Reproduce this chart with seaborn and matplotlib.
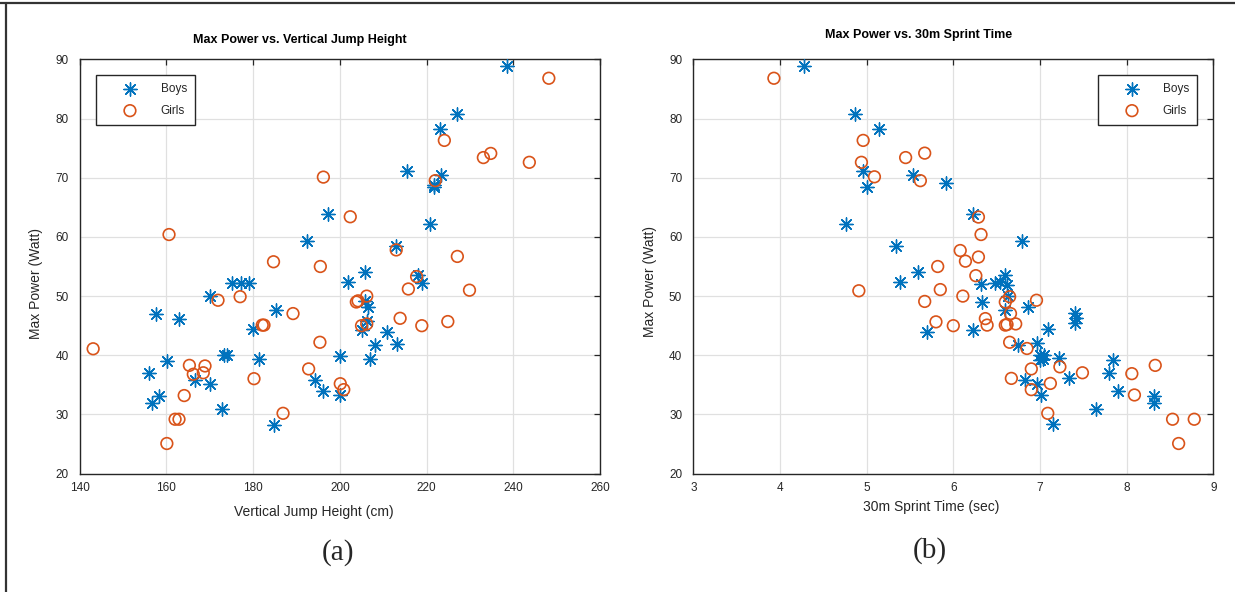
import matplotlib
matplotlib.use("Agg")
import matplotlib.pyplot as plt
from matplotlib.lines import Line2D
import seaborn as sns
import pandas as pd

# ---------------- data ----------------
jump_boys = [238.5, 227.1, 223.0, 215.6, 223.3, 221.8, 221.6, 197.3, 220.8, 213.0,
             192.4, 205.9, 201.9, 218.1, 218.9, 205.8, 206.6, 206.2, 205.0, 210.9,
             208.1, 213.1, 200.1, 207.0, 196.1, 200.1, 175.1, 177.2, 179.0, 170.1,
             157.6, 162.9, 185.2, 180.0, 173.2, 173.9, 181.4, 160.1, 155.9, 166.7,
             170.1, 194.2, 158.3, 156.6, 172.9, 184.9]
power_jump_boys = [88.9, 80.7, 78.2, 71.05, 70.5, 68.8, 68.35, 63.9, 62.2, 58.4,
                   59.3, 54.0, 52.4, 53.6, 52.2, 49.2, 48.1, 45.75, 44.2, 44.0,
                   41.8, 41.9, 39.8, 39.3, 34.0, 33.3, 52.2, 52.2, 52.2, 50.0,
                   47.0, 46.2, 47.7, 44.5, 40.0, 40.0, 39.3, 39.1, 37.05, 35.9,
                   35.1, 35.8, 33.1, 32.0, 31.0, 28.3]

jump_girls = [248.2, 224.1, 234.8, 233.1, 243.7, 196.2, 222.0, 202.4, 160.6, 213.0,
              227.1, 184.7, 195.5, 217.7, 215.8, 229.9, 206.2, 203.8, 204.2, 177.0,
              171.9, 189.2, 213.9, 224.9, 218.9, 205.0, 206.2, 182.1, 182.5, 143.1,
              195.4, 165.3, 168.9, 166.2, 168.5, 192.8, 180.2, 200.1, 200.9, 164.1,
              162.0, 162.9, 186.9, 160.1]
power_jump_girls = [86.8, 76.3, 74.1, 73.4, 72.6, 70.1, 69.5, 63.4, 60.4, 57.8,
                    56.7, 55.8, 55.0, 53.3, 51.2, 51.0, 50.0, 49.0, 49.2, 49.9,
                    49.3, 47.05, 46.25, 45.7, 45.0, 45.0, 45.3, 45.1, 45.1, 41.1,
                    42.2, 38.3, 38.2, 36.8, 37.05, 37.7, 36.05, 35.2, 34.2, 33.2,
                    29.2, 29.2, 30.2, 25.1]

sprint_boys = [4.28, 4.87, 5.14, 4.96, 5.53, 5.01, 5.92, 4.76, 6.23, 5.34,
               6.79, 5.59, 6.60, 5.38, 6.32, 6.48, 6.54, 6.62, 6.63, 6.33,
               6.60, 6.86, 7.40, 7.42, 7.40, 6.23, 7.09, 5.70, 6.75, 6.96,
               7.00, 7.05, 7.03, 7.00, 7.22, 7.84, 7.80, 6.83, 6.96, 7.33,
               7.01, 7.90, 8.31, 8.31, 7.65, 7.15]
power_sprint_boys = [88.9, 80.7, 78.2, 71.05, 70.5, 68.35, 69.1, 62.2, 63.9, 58.4,
                     59.25, 54.0, 53.6, 52.4, 52.1, 52.2, 52.3, 51.9, 50.0, 49.0,
                     47.6, 48.1, 47.2, 46.3, 45.5, 44.2, 44.5, 43.9, 41.8, 42.0,
                     40.0, 40.0, 39.4, 39.2, 39.5, 39.2, 37.05, 35.9, 35.1, 36.1,
                     33.3, 34.05, 33.1, 32.0, 31.0, 28.45]

sprint_girls = [3.93, 4.96, 5.45, 5.67, 4.94, 5.09, 5.62, 6.29, 6.32, 6.08,
                6.14, 6.29, 5.82, 6.26, 5.85, 4.91, 6.11, 6.65, 5.67, 6.60,
                6.96, 6.66, 6.37, 6.39, 6.00, 5.80, 6.60, 6.72, 6.62, 6.65,
                6.85, 7.23, 6.90, 7.49, 8.33, 8.06, 6.67, 7.12, 6.90, 8.09,
                7.09, 8.53, 8.78, 8.60]
power_sprint_girls = [86.8, 76.3, 73.4, 74.15, 72.6, 70.15, 69.5, 63.35, 60.4, 57.7,
                      55.9, 56.6, 55.0, 53.45, 51.1, 50.9, 50.0, 49.9, 49.1, 49.0,
                      49.3, 47.05, 46.2, 45.1, 45.0, 45.65, 45.1, 45.3, 45.2, 42.2,
                      41.15, 38.05, 37.7, 37.05, 38.3, 36.9, 36.1, 35.25, 34.2, 33.3,
                      30.2, 29.2, 29.2, 25.1]

group_labels = ["Boys", "Girls"]
titles = ["Max Power vs. Vertical Jump Height", "Max Power vs. 30m Sprint Time"]
xlabels = ["Vertical Jump Height (cm)", "30m Sprint Time (sec)"]
ylabel = "Max Power (Watt)"
captions = ["(a)", "(b)"]
xticks_a = [140, 160, 180, 200, 220, 240, 260]
xticks_b = [3, 4, 5, 6, 7, 8, 9]
yticks = [20, 30, 40, 50, 60, 70, 80, 90]

# ---------------- style ----------------
sns.set_style("white")
plt.rcParams["font.family"] = ["Liberation Sans", "DejaVu Sans"]

BLUE = "#0072BD"
ORANGE = "#D95319"
DARK = "#262626"
W, H = 1235, 592

fig = plt.figure(figsize=(W / 100, H / 100), dpi=100)
ax_a = fig.add_axes([79.7 / W, (H - 473.7) / H, 520.3 / W, 414.4 / H])
ax_b = fig.add_axes([693.3 / W, (H - 473.7) / H, 520.0 / W, 414.4 / H])

panels = [
    (ax_a, jump_boys, power_jump_boys, jump_girls, power_jump_girls, xticks_a,
     "upper left", (0.0308, 0.962)),
    (ax_b, sprint_boys, power_sprint_boys, sprint_girls, power_sprint_girls, xticks_b,
     "upper right", (0.969, 0.962)),
]

for i, (ax, xb, yb, xg, yg, xt, lloc, lanchor) in enumerate(panels):
    dfb = pd.DataFrame({"x": xb, "y": yb})
    dfg = pd.DataFrame({"x": xg, "y": yg})
    sns.scatterplot(data=dfb, x="x", y="y", ax=ax, marker=(8, 2, 0), s=90,
                    color=BLUE, linewidth=1.0, label=group_labels[0], zorder=3)
    sns.scatterplot(data=dfg, x="x", y="y", ax=ax, marker="o", s=70,
                    color=ORANGE, facecolor="none", edgecolor=ORANGE,
                    linewidth=1.2, label=group_labels[1], zorder=3)
    ax.set_xlim(xt[0], xt[-1])
    ax.set_ylim(yticks[0], yticks[-1])
    ax.set_xticks(xt)
    ax.set_yticks(yticks)
    ax.grid(True, color="#e0e0e0", linewidth=0.9)
    ax.set_axisbelow(True)
    for sp in ax.spines.values():
        sp.set_visible(True)
        sp.set_color(DARK)
        sp.set_linewidth(1.0)
    ax.tick_params(axis="both", direction="in", length=4.5, width=0.9, color=DARK,
                   top=True, right=True, labelsize=8.5, labelcolor=DARK)
    ax.tick_params(axis="x", pad=6)
    ax.tick_params(axis="y", pad=8)
    ax.set_xlabel(xlabels[i], fontsize=10, color=DARK)
    ax.set_ylabel(ylabel, fontsize=10, color=DARK)
    ax.xaxis.label.set_va("center")
    ax.yaxis.label.set_va("center")
    leg = ax.legend(loc=lloc, bbox_to_anchor=lanchor, borderaxespad=0,
                    fontsize=8.5, frameon=True, fancybox=False, framealpha=1,
                    edgecolor=DARK, borderpad=0.7, handlelength=4.4,
                    handletextpad=0.4, labelspacing=0.8, scatterpoints=1)
    leg.get_frame().set_linewidth(1.0)

ax_a.xaxis.set_label_coords(0.450, -0.093)
ax_b.xaxis.set_label_coords(0.457, -0.081)
ax_a.yaxis.set_label_coords(-0.084, 0.458)
ax_b.yaxis.set_label_coords(-0.083, 0.463)

# titles
fig.text(300 / W, 1 - 40 / H, titles[0], ha="center", va="center",
         fontsize=9, fontweight="bold", color="black")
fig.text(919 / W, 1 - 35 / H, titles[1], ha="center", va="center",
         fontsize=9, fontweight="bold", color="black")

# captions
fig.text(338 / W, 1 - 553 / H, captions[0], ha="center", va="center",
         fontsize=21, family=["Liberation Serif", "DejaVu Serif"])
fig.text(930 / W, 1 - 551 / H, captions[1], ha="center", va="center",
         fontsize=21, family=["Liberation Serif", "DejaVu Serif"])

# outer frame lines (top and left)
fig.add_artist(Line2D([0, 1], [1 - 3 / H, 1 - 3 / H], transform=fig.transFigure,
                      color="#333333", linewidth=1.6))
fig.add_artist(Line2D([5.5 / W, 5.5 / W], [0, 1 - 3 / H], transform=fig.transFigure,
                      color="#333333", linewidth=1.6))

fig.savefig("out.png", dpi=100, facecolor="white")
